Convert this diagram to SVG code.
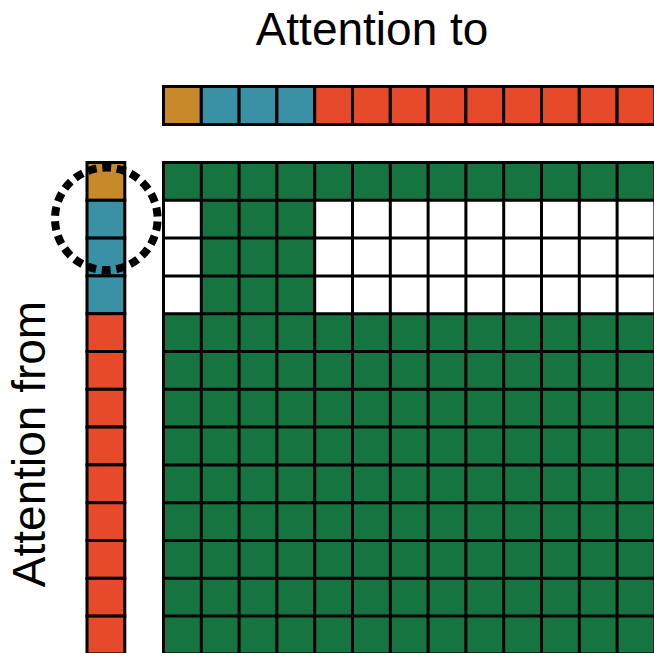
<svg xmlns="http://www.w3.org/2000/svg" width="654" height="653" viewBox="0 0 654 653">
<style>
.c{stroke:#000;stroke-width:3}
.o{fill:#C8892A}.b{fill:#3A90A5}.r{fill:#E64A2A}.g{fill:#157440}.w{fill:#fff}
.t{font-family:"Liberation Sans",Arial,sans-serif;font-size:46px;fill:#000;text-anchor:middle}
</style>
<rect width="654" height="653" fill="#fff"/>
<g id="label-to"><text class="t" x="372" y="44.5">Attention to</text></g>
<g id="label-from"><text class="t" transform="translate(45,444) rotate(-90)">Attention from</text></g>
<g id="top-row">
<rect class="c o" x="163.5" y="86.5" width="37.8" height="38"/>
<rect class="c b" x="201.3" y="86.5" width="37.8" height="38"/>
<rect class="c b" x="239.1" y="86.5" width="37.8" height="38"/>
<rect class="c b" x="276.9" y="86.5" width="37.8" height="38"/>
<rect class="c r" x="314.7" y="86.5" width="37.8" height="38"/>
<rect class="c r" x="352.5" y="86.5" width="37.8" height="38"/>
<rect class="c r" x="390.3" y="86.5" width="37.8" height="38"/>
<rect class="c r" x="428.1" y="86.5" width="37.8" height="38"/>
<rect class="c r" x="465.9" y="86.5" width="37.8" height="38"/>
<rect class="c r" x="503.7" y="86.5" width="37.8" height="38"/>
<rect class="c r" x="541.5" y="86.5" width="37.8" height="38"/>
<rect class="c r" x="579.3" y="86.5" width="37.8" height="38"/>
<rect class="c r" x="617.1" y="86.5" width="37.8" height="38"/>
</g>
<g id="left-col">
<rect class="c o" x="87" y="162.5" width="37.8" height="37.8"/>
<rect class="c b" x="87" y="200.3" width="37.8" height="37.8"/>
<rect class="c b" x="87" y="238.1" width="37.8" height="37.8"/>
<rect class="c b" x="87" y="275.9" width="37.8" height="37.8"/>
<rect class="c r" x="87" y="313.7" width="37.8" height="37.8"/>
<rect class="c r" x="87" y="351.5" width="37.8" height="37.8"/>
<rect class="c r" x="87" y="389.3" width="37.8" height="37.8"/>
<rect class="c r" x="87" y="427.1" width="37.8" height="37.8"/>
<rect class="c r" x="87" y="464.9" width="37.8" height="37.8"/>
<rect class="c r" x="87" y="502.7" width="37.8" height="37.8"/>
<rect class="c r" x="87" y="540.5" width="37.8" height="37.8"/>
<rect class="c r" x="87" y="578.3" width="37.8" height="37.8"/>
<rect class="c r" x="87" y="616.1" width="37.8" height="37.8"/>
</g>
<g id="matrix">
<rect class="g" x="163.5" y="162.5" width="491.4" height="491.4"/>
<rect class="w" x="163.5" y="200.3" width="37.8" height="113.4"/>
<rect class="w" x="314.7" y="200.3" width="340.2" height="113.4"/>
<g stroke="#000" stroke-width="3" fill="none">
<rect x="163.5" y="162.5" width="491.4" height="491.4"/>
<path d="M201.3 162.5V654M239.1 162.5V654M276.9 162.5V654M314.7 162.5V654M352.5 162.5V654M390.3 162.5V654M428.1 162.5V654M465.9 162.5V654M503.7 162.5V654M541.5 162.5V654M579.3 162.5V654M617.1 162.5V654"/>
<path d="M163.5 200.3H655M163.5 238.1H655M163.5 275.9H655M163.5 313.7H655M163.5 351.5H655M163.5 389.3H655M163.5 427.1H655M163.5 464.9H655M163.5 502.7H655M163.5 540.5H655M163.5 578.3H655M163.5 616.1H655"/>
</g>
</g>
<g id="highlight"><circle cx="106.3" cy="218.8" r="51.3" fill="none" stroke="#000" stroke-width="8" stroke-dasharray="9 5.65" stroke-dashoffset="11.8"/></g>
</svg>
